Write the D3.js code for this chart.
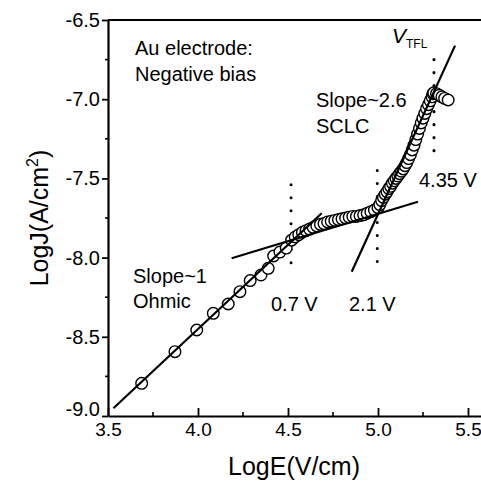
<!DOCTYPE html>
<html>
<head>
<meta charset="utf-8">
<script src="https://cdn.jsdelivr.net/npm/d3@7"></script>
<style>
  body { margin: 0; background: #fff; }
  text { font-family: "Liberation Sans", Arial, sans-serif; fill: #000; }
</style>
</head>
<body>
<svg width="481" height="485"></svg>
<script>
var logE = [3.687, 3.872, 3.993, 4.085, 4.168, 4.233, 4.29, 4.35, 4.39, 4.42, 4.455, 4.49,
  4.52, 4.54, 4.56, 4.58, 4.60, 4.62, 4.64, 4.66, 4.68, 4.70, 4.72, 4.74, 4.76, 4.78,
  4.80, 4.82, 4.84, 4.86, 4.88, 4.90, 4.92, 4.94, 4.96, 4.98,
  5.00, 5.01, 5.02, 5.03, 5.04, 5.05, 5.06, 5.07, 5.08, 5.09, 5.10, 5.11, 5.12, 5.13,
  5.14, 5.15, 5.16, 5.17, 5.18, 5.19, 5.20, 5.21, 5.22, 5.23, 5.24, 5.25, 5.26, 5.27,
  5.28, 5.29, 5.30, 5.305, 5.31, 5.325, 5.34, 5.355, 5.37, 5.39];
var logJ = [-8.794, -8.594, -8.457, -8.352, -8.293, -8.215, -8.145, -8.11, -8.068, -7.99, -7.965, -7.94,
  -7.89, -7.87, -7.855, -7.84, -7.83, -7.82, -7.81, -7.80, -7.79, -7.785, -7.775, -7.77, -7.765, -7.76,
  -7.755, -7.75, -7.745, -7.74, -7.74, -7.735, -7.73, -7.72, -7.71, -7.70,
  -7.685, -7.665, -7.64, -7.62, -7.60, -7.585, -7.565, -7.55, -7.53, -7.515, -7.50, -7.485, -7.47, -7.455,
  -7.44, -7.42, -7.40, -7.375, -7.35, -7.32, -7.29, -7.255, -7.22, -7.185, -7.15, -7.12, -7.09, -7.06,
  -7.035, -7.01, -6.985, -6.965, -6.96, -6.965, -6.975, -6.985, -6.995, -7.005];

// fitted lines: [x1, y1, x2, y2]
var fitOhmic = [3.53, -8.951, 4.687, -7.72];
var fitTrap = [4.187, -8.004, 5.222, -7.647];
var fitSclc = [4.854, -8.089, 5.428, -6.662];

// dotted markers: [logE, top logJ, bottom logJ]
var markers = [[4.517, -7.54, -8.05], [4.996, -7.45, -8.05], [5.311, -6.75, -7.34]];

var xTicks = [3.5, 4.0, 4.5, 5.0, 5.5];
var yTicks = [-6.5, -7.0, -7.5, -8.0, -8.5, -9.0];
var xMinor = [3.75, 4.25, 4.75, 5.25];
var yMinor = [-6.75, -7.25, -7.75, -8.25, -8.75];

var svg = d3.select("svg");

var x = d3.scaleLinear().domain([3.5, 5.6]).range([108, 486]);
var y = d3.scaleLinear().domain([-9.0, -6.5]).range([416, 20]);

// frame
svg.append("line")
    .attr("x1", 108).attr("x2", 481)
    .attr("y1", y(-6.5)).attr("y2", y(-6.5))
    .attr("stroke", "#000").attr("stroke-width", 2.2);

var xAxis = svg.append("g")
    .attr("transform", "translate(0," + y(-9.0) + ")")
    .call(d3.axisBottom(x).tickValues(xTicks).tickSizeInner(-8).tickSizeOuter(0)
      .tickFormat(d3.format(".1f")));
xAxis.select(".domain").attr("stroke-width", 2.2);
xAxis.selectAll(".tick line").attr("stroke-width", 1.8);
xAxis.selectAll(".tick text")
    .attr("y", 7).attr("dy", "0.71em")
    .style("font-size", "19px");

svg.append("g")
    .attr("transform", "translate(0," + y(-9.0) + ")")
  .selectAll("line")
  .data(xMinor)
  .enter().append("line")
    .attr("x1", function(d) { return x(d); })
    .attr("x2", function(d) { return x(d); })
    .attr("y1", 0).attr("y2", -4)
    .attr("stroke", "#000").attr("stroke-width", 1.6);

var yAxis = svg.append("g")
    .attr("transform", "translate(" + x(3.5) + ",0)")
    .call(d3.axisLeft(y).tickValues(yTicks).tickSizeInner(6).tickSizeOuter(0)
      .tickFormat(d3.format(".1f")));
yAxis.select(".domain").attr("stroke-width", 2.2);
yAxis.selectAll(".tick line").attr("stroke-width", 1.8);
yAxis.selectAll(".tick text")
    .attr("x", -8)
    .style("font-size", "20px")
    .text(function(d) { return d3.format(".1f")(d).replace("\u2212", "-"); })
    .attr("dy", function(d) { return d === -9.0 ? "-0.05em" : "0.32em"; });

svg.append("g")
    .attr("transform", "translate(" + x(3.5) + ",0)")
  .selectAll("line")
  .data(yMinor)
  .enter().append("line")
    .attr("y1", function(d) { return y(d); })
    .attr("y2", function(d) { return y(d); })
    .attr("x1", 0).attr("x2", -3)
    .attr("stroke", "#000").attr("stroke-width", 1.6);

svg.selectAll(".domain, .tick line").attr("stroke", "#000");

// axis titles
svg.append("text")
    .attr("x", 294).attr("y", 475)
    .attr("text-anchor", "middle")
    .style("font-size", "25px")
    .text("LogE(V/cm)");

var yt = svg.append("text")
    .attr("transform", "translate(48,218) rotate(-90)")
    .attr("text-anchor", "middle")
    .style("font-size", "25px");
yt.append("tspan").text("LogJ(A/cm");
yt.append("tspan").attr("dy", -10).style("font-size", "16px").text("2");
yt.append("tspan").attr("dy", 10).text(")");

// dotted markers
svg.append("g").selectAll("line")
  .data(markers)
  .enter().append("line")
    .attr("x1", function(d) { return x(d[0]); })
    .attr("x2", function(d) { return x(d[0]); })
    .attr("y1", function(d) { return y(d[1]); })
    .attr("y2", function(d) { return y(d[2]); })
    .attr("stroke", "#000")
    .attr("stroke-width", 3)
    .attr("stroke-linecap", "round")
    .attr("stroke-dasharray", "0.1 12.9");

// data points
var pts = d3.zip(logE, logJ);
svg.append("g").selectAll("circle")
  .data(pts)
  .enter().append("circle")
    .attr("cx", function(d) { return x(d[0]); })
    .attr("cy", function(d) { return y(d[1]); })
    .attr("r", 5.8)
    .attr("fill", "#fff")
    .attr("stroke", "#000")
    .attr("stroke-width", 1.4);

// fit lines
svg.append("g").selectAll("line")
  .data([fitOhmic, fitTrap, fitSclc])
  .enter().append("line")
    .attr("x1", function(d) { return x(d[0]); })
    .attr("y1", function(d) { return y(d[1]); })
    .attr("x2", function(d) { return x(d[2]); })
    .attr("y2", function(d) { return y(d[3]); })
    .attr("stroke", "#000")
    .attr("stroke-width", 2.2);

// annotations
var note = function(tx, ty, s) {
  svg.append("text").attr("x", tx).attr("y", ty).style("font-size", "20px").text(s);
};
note(135, 55, "Au electrode:");
note(135, 81, "Negative bias");
note(133, 283, "Slope~1");
note(133, 308, "Ohmic");
note(316, 107, "Slope~2.6");
note(316, 133, "SCLC");
note(419, 187, "4.35 V");
note(271, 311, "0.7 V");
note(349, 311, "2.1 V");

var vt = svg.append("text").attr("x", 392).attr("y", 43).style("font-size", "21px");
vt.append("tspan").style("font-style", "italic").text("V");
vt.append("tspan").attr("dy", 5).style("font-size", "12px").text("TFL");
</script>
</body>
</html>
